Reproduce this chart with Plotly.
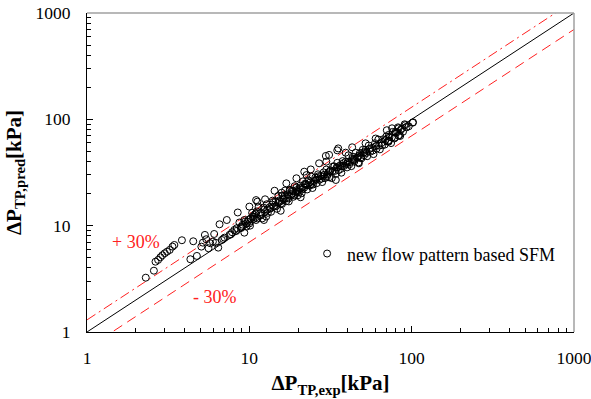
import plotly.graph_objects as go

# ---------------- data (kPa) ----------------
x_exp = [
    # low-pressure-drop region
    2.30, 2.58, 2.64, 2.74, 2.83, 2.91, 3.01, 3.11, 3.23, 3.36, 3.45, 3.84, 4.33, 4.51, 4.75,
    5.06, 5.17, 5.32, 5.42, 5.60, 5.74, 5.96, 6.07, 6.43, 6.55, 6.76, 7.03, 7.26, 7.54, 7.83,
    8.09, 8.36, 8.48, 8.68, 8.89, 9.10, 9.31, 9.55, 9.77, 10.0, 10.2, 10.5, 10.7, 11.0, 11.2,
    6.2, 6.9, 7.7, 8.3, 8.9,
    # segment A
    9.0, 9.3, 9.6, 9.9, 10.1, 10.4, 10.6, 10.9, 11.2, 11.4, 11.7, 12.0, 12.2, 12.5, 12.8, 13.0,
    9.4, 10.0, 10.7, 11.1, 11.8, 12.3, 12.9,
    # segment B
    13.3, 13.6, 13.9, 14.2, 14.5, 14.8, 15.1, 15.4, 15.7, 16.0, 16.3, 16.6, 16.9, 17.2, 17.5,
    17.8, 18.1, 18.4, 18.7, 19.0, 19.3, 19.6, 19.9,
    13.5, 14.0, 14.6, 15.2, 15.9, 16.5, 17.1, 17.7, 18.3, 18.9, 19.5,
    13.8, 15.0, 16.2, 17.4, 18.6, 19.8,
    # segment C
    20.2, 20.6, 21.0, 21.4, 21.8, 22.2, 22.7, 23.1, 23.6, 24.0, 24.5, 25.0, 25.5, 26.0, 26.5,
    27.0, 27.6, 28.1, 28.7, 29.2, 29.8, 30.4, 31.0, 31.6, 32.2, 32.8,
    20.4, 21.2, 22.0, 22.9, 23.8, 24.7, 25.7, 26.7, 27.8, 28.9, 30.0, 31.3, 32.5,
    20.8, 22.4, 24.2, 26.2, 28.4, 30.7,
    # segment D
    33.4, 34.1, 34.8, 35.5, 36.2, 36.9, 37.6, 38.4, 39.2, 40.0, 40.8, 41.6, 42.5, 43.4, 44.3,
    45.2, 46.1, 47.0, 48.0, 49.0, 50.0, 51.0,
    33.8, 35.2, 36.6, 38.0, 39.6, 41.2, 42.9, 44.7, 46.6, 48.5, 50.5,
    34.5, 37.2, 40.4, 43.8, 47.5, 51.5,
    # segment E
    52.0, 53.2, 54.4, 55.6, 56.9, 58.2, 59.5, 60.9, 62.3, 63.7, 65.2, 66.7, 68.2, 69.8, 71.4,
    73.0, 74.7, 76.4, 78.2, 80.0,
    52.6, 55.0, 57.5, 60.2, 63.0, 65.9, 69.0, 72.2, 75.5, 79.0,
    # segment F
    81.5, 83.0, 84.1, 85.6, 87.0, 88.5, 90.6, 93.0, 96.0, 102.0, 83.2,
    # upper outliers
    11.0, 12.5, 14.3, 15.8, 16.9, 19.5, 21.8, 22.5, 23.9, 26.9, 29.8, 31.0, 34.8, 35.3, 39.2,
    43.0, 52.0, 60.0, 70.3, 29.6,
    # lower edge
    11.0, 12.3, 15.6, 20.7, 34.1, 47.3, 72.1, 12.7,
    # top right
    75.7, 82.4, 85.0, 91.5, 101.5, 72.3, 79.4,
]

y_pred = [
    # low-pressure-drop region
    3.24, 3.77, 4.58, 4.76, 5.04, 5.27, 5.50, 5.69, 5.91, 6.35, 6.58, 7.29, 4.83, 7.13, 5.19,
    6.35, 6.92, 8.18, 7.45, 6.13, 6.83, 7.07, 8.35, 6.21, 10.3, 7.33, 7.71, 11.3, 8.18, 8.67,
    9.12, 9.46, 13.3, 10.7, 9.79, 10.2, 8.59, 10.5, 10.9, 15.1, 11.7, 12.2, 12.6, 13.1, 16.8,
    6.9, 7.5, 8.3, 8.9, 9.5,
    # segment A
    9.7, 11.3, 9.8, 11.4, 10.0, 13.2, 11.6, 12.9, 11.7, 15.0, 13.2, 11.7, 14.8, 13.4, 15.9, 13.2,
    10.9, 10.5, 12.1, 13.6, 12.5, 14.2, 14.2,
    # segment B
    14.9, 13.5, 17.2, 15.1, 16.8, 14.4, 19.1, 16.9, 16.2, 19.2, 17.6, 21.4, 17.0, 19.7, 16.9,
    21.7, 19.4, 21.3, 18.7, 23.5, 20.0, 21.6, 19.3,
    14.5, 16.6, 15.3, 17.2, 16.0, 19.2, 18.2, 21.4, 20.0, 19.3, 22.8,
    15.8, 16.3, 18.1, 18.0, 21.1, 21.1,
    # segment C
    20.6, 23.8, 20.2, 26.1, 22.8, 24.5, 21.9, 26.7, 23.8, 29.0, 22.6, 26.3, 28.4, 25.1, 30.4,
    27.0, 29.3, 25.7, 31.7, 28.0, 33.7, 30.4, 28.5, 33.2, 28.0, 36.1,
    22.6, 21.9, 24.8, 24.0, 25.7, 24.4, 27.0, 29.2, 27.7, 30.1, 28.8, 32.5, 32.5,
    22.4, 24.2, 24.7, 28.1, 29.0, 31.6,
    # segment D
    36.1, 30.7, 39.0, 33.3, 36.9, 31.5, 40.5, 36.5, 39.9, 35.3, 45.9, 39.6, 36.3, 44.6, 40.0,
    48.6, 43.4, 39.3, 48.3, 42.9, 51.7, 46.0,
    32.8, 35.5, 34.2, 38.7, 38.0, 37.6, 42.4, 41.6, 44.7, 43.8, 48.5,
    35.2, 36.3, 39.6, 41.6, 45.6, 49.4,
    # segment E
    51.8, 45.0, 56.7, 49.6, 53.9, 47.1, 59.6, 53.2, 64.6, 52.2, 59.9, 64.9, 57.8, 69.1, 62.4,
    68.3, 59.8, 76.2, 66.1, 74.8,
    48.2, 52.7, 50.8, 56.0, 56.7, 57.0, 64.1, 63.1, 67.6, 67.5,
    # segment F
    76.0, 70.0, 71.3, 79.5, 82.0, 76.5, 89.9, 84.0, 86.0, 93.9, 82.4,
    # upper outliers
    17.4, 17.7, 21.3, 20.4, 25.0, 27.9, 32.2, 29.9, 33.8, 38.6, 40.0, 46.3, 51.1, 53.3, 48.6,
    54.6, 59.5, 66.0, 79.0, 45.3,
    # lower edge
    11.3, 11.3, 13.8, 18.5, 26.9, 38.6, 61.6, 12.2,
    # top right
    82.4, 84.1, 69.8, 88.3, 93.0, 71.5, 76.0,
]

ref_x = [1, 1000]
upper_factor = 1.3
lower_factor = 0.7
tick_vals = [1, 10, 100, 1000]
tick_text = ["1", "10", "100", "1000"]
series_name = "new flow pattern based SFM"

FONT = "Times New Roman, Liberation Serif, serif"
RED = "#FF2020"

minor_vals = [m * 10 ** d for d in range(3) for m in range(2, 10)]

fig = go.Figure()

fig.add_trace(go.Scatter(
    x=ref_x, y=ref_x, mode="lines",
    line=dict(color="black", width=1), showlegend=False, hoverinfo="skip"))
fig.add_trace(go.Scatter(
    x=ref_x, y=[v * upper_factor for v in ref_x], mode="lines",
    line=dict(color=RED, width=1, dash="10px,4px,2px,4px"), showlegend=False, hoverinfo="skip"))
fig.add_trace(go.Scatter(
    x=ref_x, y=[v * lower_factor for v in ref_x], mode="lines",
    line=dict(color=RED, width=1, dash="10px,6px"), showlegend=False, hoverinfo="skip"))

fig.add_trace(go.Scatter(
    x=x_exp, y=y_pred, mode="markers", name=series_name,
    marker=dict(symbol="circle-open", size=7, color="black", line=dict(width=1, color="black"))))

axis_common = dict(
    type="log", range=[-0.0005, 3.0005], tickvals=tick_vals, ticktext=tick_text,
    ticks="inside", ticklen=6, tickwidth=1, tickcolor="black",
    showline=True, linecolor="black", linewidth=1,
    showgrid=False, zeroline=False, automargin=False,
    ticklabeloverflow="allow",
    tickfont=dict(family=FONT, size=17.5, color="black"),
    minor=dict(tickvals=minor_vals, ticks="inside", ticklen=4, tickwidth=1,
               tickcolor="black", showgrid=False),
)

fig.update_layout(
    width=591, height=399,
    margin=dict(l=87, r=17, t=13, b=67),
    plot_bgcolor="white", paper_bgcolor="white",
    font=dict(family=FONT, color="black"),
    xaxis=dict(**axis_common, ticklabelstandoff=10,
               title=dict(text="<b>ΔP<sub>TP,exp</sub>[kPa]</b>",
                          font=dict(family=FONT, size=21, color="black"), standoff=8)),
    yaxis=dict(**axis_common, ticklabelstandoff=12,
               title=dict(text="<b>ΔP<sub>TP,pred</sub>[kPa]</b>",
                          font=dict(family=FONT, size=21, color="black"), standoff=8)),
    legend=dict(x=0.452, y=0.245, xanchor="left", yanchor="middle",
                bgcolor="rgba(0,0,0,0)", font=dict(family=FONT, size=18, color="black"),
                itemwidth=30),
    shapes=[
        dict(type="line", xref="paper", yref="paper", x0=0, x1=1, y0=1, y1=1,
             line=dict(color="#A0A0A0", width=1.5)),
        dict(type="line", xref="paper", yref="paper", x0=1, x1=1, y0=0, y1=1,
             line=dict(color="#A0A0A0", width=1.5)),
    ],
    annotations=[
        dict(text="+ 30%", xref="paper", yref="paper", x=0.1014, y=0.2806,
             xanchor="center", yanchor="middle",
             showarrow=False, font=dict(family=FONT, size=18, color=RED)),
        dict(text="- 30%", xref="paper", yref="paper", x=0.262, y=0.1097,
             xanchor="center", yanchor="middle",
             showarrow=False, font=dict(family=FONT, size=18, color=RED)),
    ],
)

fig.write_html("out.html")
